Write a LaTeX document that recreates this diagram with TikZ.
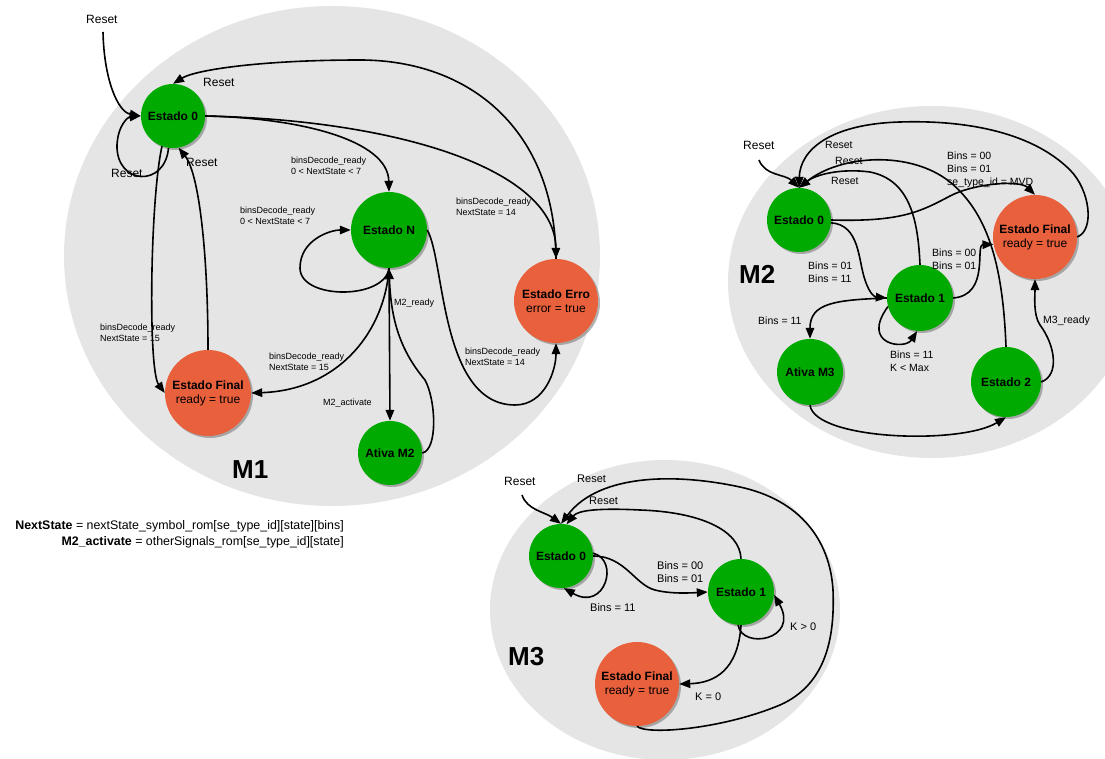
\documentclass[tikz,border=0pt]{standalone}
\usepackage{fontspec}
\setmainfont{Liberation Sans}
\usetikzlibrary{arrows.meta,shadows}
\definecolor{zonegray}{RGB}{229,229,229}
\definecolor{stgreen}{RGB}{0,170,0}
\definecolor{stred}{RGB}{233,96,61}
\begin{document}
\begin{tikzpicture}[x=1pt,y=-1pt,
  st/.style={circle,draw=none,minimum size=#1,inner sep=0pt,align=center,
    font=\fontsize{12}{14}\selectfont,
    drop shadow={shadow xshift=2pt,shadow yshift=-2pt,fill=black!55,opacity=0.55}},
  ok/.style={fill=stgreen},
  fin/.style={fill=stred},
  tr/.style={line width=1.6pt,-{Triangle[length=11pt,width=8.5pt]}},
  lblA/.style={font=\fontsize{9}{11}\selectfont,align=left,inner sep=0pt,anchor=north west},
  lblB/.style={font=\fontsize{10.5}{13}\selectfont,align=left,inner sep=0pt,anchor=north west},
  lblC/.style={font=\fontsize{11}{13}\selectfont,align=left,inner sep=0pt,anchor=north west},
  rstA/.style={font=\fontsize{12}{14}\selectfont,inner sep=0pt,anchor=north west},
  zone/.style={fill=zonegray,draw=none},
  title/.style={font=\bfseries\fontsize{26}{28}\selectfont,inner sep=0pt,anchor=north west},
  ]
\useasboundingbox (0,0) rectangle (1105,759);

% machine regions
\fill[zone] (332,256) ellipse [x radius=268, y radius=250];
\fill[zone] (932,282) ellipse [x radius=204, y radius=176];
\fill[zone] (665,610) ellipse [x radius=175, y radius=150];

% ---------------- M1 ----------------
\node[st=64pt,ok]  (a0)   at (173,116) {\textbf{Estado 0}};
\node[st=76pt,ok]  (aN)   at (389,230) {\textbf{Estado N}};
\node[st=84pt,fin] (aErr) at (556,301) {\textbf{Estado Erro}\\error = true};
\node[st=86pt,fin] (aFin) at (208,393) {\textbf{Estado Final}\\ready = true};
\node[st=64pt,ok]  (aAtv) at (390,453) {\textbf{Ativa M2}};
\coordinate (r1) at (103,32);

\draw[tr] (r1) .. controls (104,80) and (118,112) .. (a0.west);
\draw[tr] (a0.262) .. controls (165,188) and (116,185) .. (117,145) .. controls (118,125) and (128,117) .. (a0.west);
\draw[tr] (a0.east) .. controls (300,118) and (388,140) .. (aN.north);
\draw[tr] (a0.east) .. controls (400,120) and (555,170) .. (aErr.north);
\draw[tr] (aErr.north) .. controls (555,130) and (470,60) .. (360,60) .. controls (260,60) and (195,70) .. (a0.north);
\draw[tr] (aN.south) .. controls (385,300) and (300,300) .. (300,268) .. controls (300,240) and (330,230) .. (aN.west);
\draw[tr] (aN.south) .. controls (385,330) and (340,390) .. (aFin.east);
\draw[tr] (aN.south) -- (aAtv.north);
\draw[tr] (aAtv.east) .. controls (438,450) and (436,400) .. (425,380) .. controls (400,350) and (391,320) .. (aN.south);
\draw[tr] (aN.east) .. controls (445,260) and (440,405) .. (515,405) .. controls (545,405) and (556,370) .. (aErr.south);
\draw[tr] (a0.250) .. controls (150,200) and (148,370) .. (aFin.west);
\draw[tr] (aFin.north) .. controls (208,260) and (200,175) .. (a0.280);

\node[rstA] (l1)  at (86,15)   {Reset};
\node[rstA] (l2)  at (203,78)  {Reset};
\node[rstA] (l3)  at (111,169) {Reset};
\node[rstA] (l4)  at (186,158) {Reset};
\node[lblA] (l5)  at (291,157) {binsDecode\_ready\\0 < NextState < 7};
\node[lblA] (l6)  at (240,207) {binsDecode\_ready\\0 < NextState < 7};
\node[lblA] (l7)  at (456,198) {binsDecode\_ready\\NextState = 14};
\node[lblA] (l8)  at (465,348) {binsDecode\_ready\\NextState = 14};
\node[lblA] (l9)  at (100,324) {binsDecode\_ready\\NextState = 15};
\node[lblA] (l10) at (269,353) {binsDecode\_ready\\NextState = 15};
\node[lblA] (l11) at (323,399) {M2\_activate};
\node[lblA] (l12) at (394,299) {M2\_ready};
\node[title] (t1) at (232,460) {M1};

\node[font=\fontsize{12.4}{16}\selectfont,align=right,inner sep=0pt,anchor=north east] (eq) at (344,520)
  {\textbf{NextState} = nextState\_symbol\_rom[se\_type\_id][state][bins]\\
   \textbf{M2\_activate} = otherSignals\_rom[se\_type\_id][state]};

% ---------------- M2 ----------------
\node[st=64pt,ok]  (b0)   at (799,220)  {\textbf{Estado 0}};
\node[st=66pt,ok]  (b1)   at (920,298)  {\textbf{Estado 1}};
\node[st=66pt,ok]  (bAtv) at (810,372)  {\textbf{Ativa M3}};
\node[st=70pt,ok]  (b2)   at (1006,382) {\textbf{Estado 2}};
\node[st=84pt,fin] (bFin) at (1035,237) {\textbf{Estado Final}\\ready = true};
\coordinate (r2) at (759,160);

\draw[tr] (r2) .. controls (765,176) and (785,174) .. (b0.north);
\draw[tr] (bFin.east) .. controls (1095,230) and (1090,190) .. (1070,170) .. controls (1030,130) and (960,120) .. (900,122) .. controls (830,124) and (800,150) .. (b0.north);
\draw[tr] (b2.north) .. controls (1003,270) and (990,215) .. (950,182) .. controls (910,150) and (840,155) .. (b0.north);
\draw[tr] (b1.north) .. controls (918,220) and (910,180) .. (870,172) .. controls (840,168) and (815,175) .. (b0.north);
\draw[tr] (b0.east) .. controls (900,222) and (920,212) .. (950,196) .. controls (975,183) and (1020,180) .. (bFin.north);
\draw[tr] (b0.355) .. controls (860,225) and (858,260) .. (865,280) .. controls (870,295) and (875,297) .. (b1.west);
\draw[tr] (b1.east) .. controls (990,295) and (975,245) .. (bFin.190);
\draw[tr] (b1.west) .. controls (835,300) and (810,303) .. (bAtv.north);
\draw[tr] (b1.195) .. controls (860,345) and (905,350) .. (b1.265);
\draw[tr] (bAtv.south) .. controls (815,440) and (960,445) .. (b2.south);
\draw[tr] (b2.east) .. controls (1060,375) and (1055,345) .. (1040,325) .. controls (1033,315) and (1035,295) .. (bFin.south);

\node[rstA] (m1)  at (743,141) {Reset};
\node[lblB] (m2)  at (825,141) {Reset};
\node[lblB] (m3)  at (835,157) {Reset};
\node[lblB] (m4)  at (831,177) {Reset};
\node[lblB] (m5)  at (947,152) {Bins = 00\\Bins = 01\\se\_type\_id = MVD};
\node[lblB] (m6)  at (808,262) {Bins = 01\\Bins = 11};
\node[lblB] (m7)  at (932,249) {Bins = 00\\Bins = 01};
\node[lblB] (m8)  at (758,317) {Bins = 11};
\node[lblB] (m9)  at (890,351) {Bins = 11\\K < Max};
\node[lblB] (m10) at (1043,316) {M3\_ready};
\node[title] (t2) at (739,265) {M2};

% ---------------- M3 ----------------
\node[st=64pt,ok]  (c0)   at (561,556) {\textbf{Estado 0}};
\node[st=66pt,ok]  (c1)   at (741,592) {\textbf{Estado 1}};
\node[st=84pt,fin] (cFin) at (637,684) {\textbf{Estado Final}\\ready = true};
\coordinate (r3) at (522,495);

\draw[tr] (r3) .. controls (527,510) and (545,512) .. (c0.north);
\draw[tr] (cFin.south) .. controls (645,735) and (720,730) .. (780,705) .. controls (825,685) and (835,640) .. (833,590) .. controls (830,540) and (800,500) .. (740,487) .. controls (680,474) and (600,472) .. (c0.north);
\draw[tr] (c1.north) .. controls (740,530) and (700,512) .. (640,510) .. controls (600,508) and (578,510) .. (c0.80);
\draw[tr] (c0.east) .. controls (625,556) and (635,585) .. (655,590) .. controls (670,594) and (690,593) .. (c1.west);
\draw[tr] (c0.5) .. controls (620,560) and (605,612) .. (c0.275);
\draw[tr] (c1.265) .. controls (742,650) and (800,640) .. (c1.355);
\draw[tr] (c1.south) .. controls (738,670) and (715,683) .. (cFin.east);

\node[rstA] (n1) at (504,477) {Reset};
\node[lblC] (n2) at (577,475) {Reset};
\node[lblC] (n3) at (589,497) {Reset};
\node[lblC] (n4) at (657,561) {Bins = 00\\Bins = 01};
\node[lblC] (n5) at (590,603) {Bins = 11};
\node[lblC] (n6) at (790,623) {K > 0};
\node[lblC] (n7) at (695,693) {K = 0};
\node[title] (t3) at (508,647) {M3};
\end{tikzpicture}
\end{document}
